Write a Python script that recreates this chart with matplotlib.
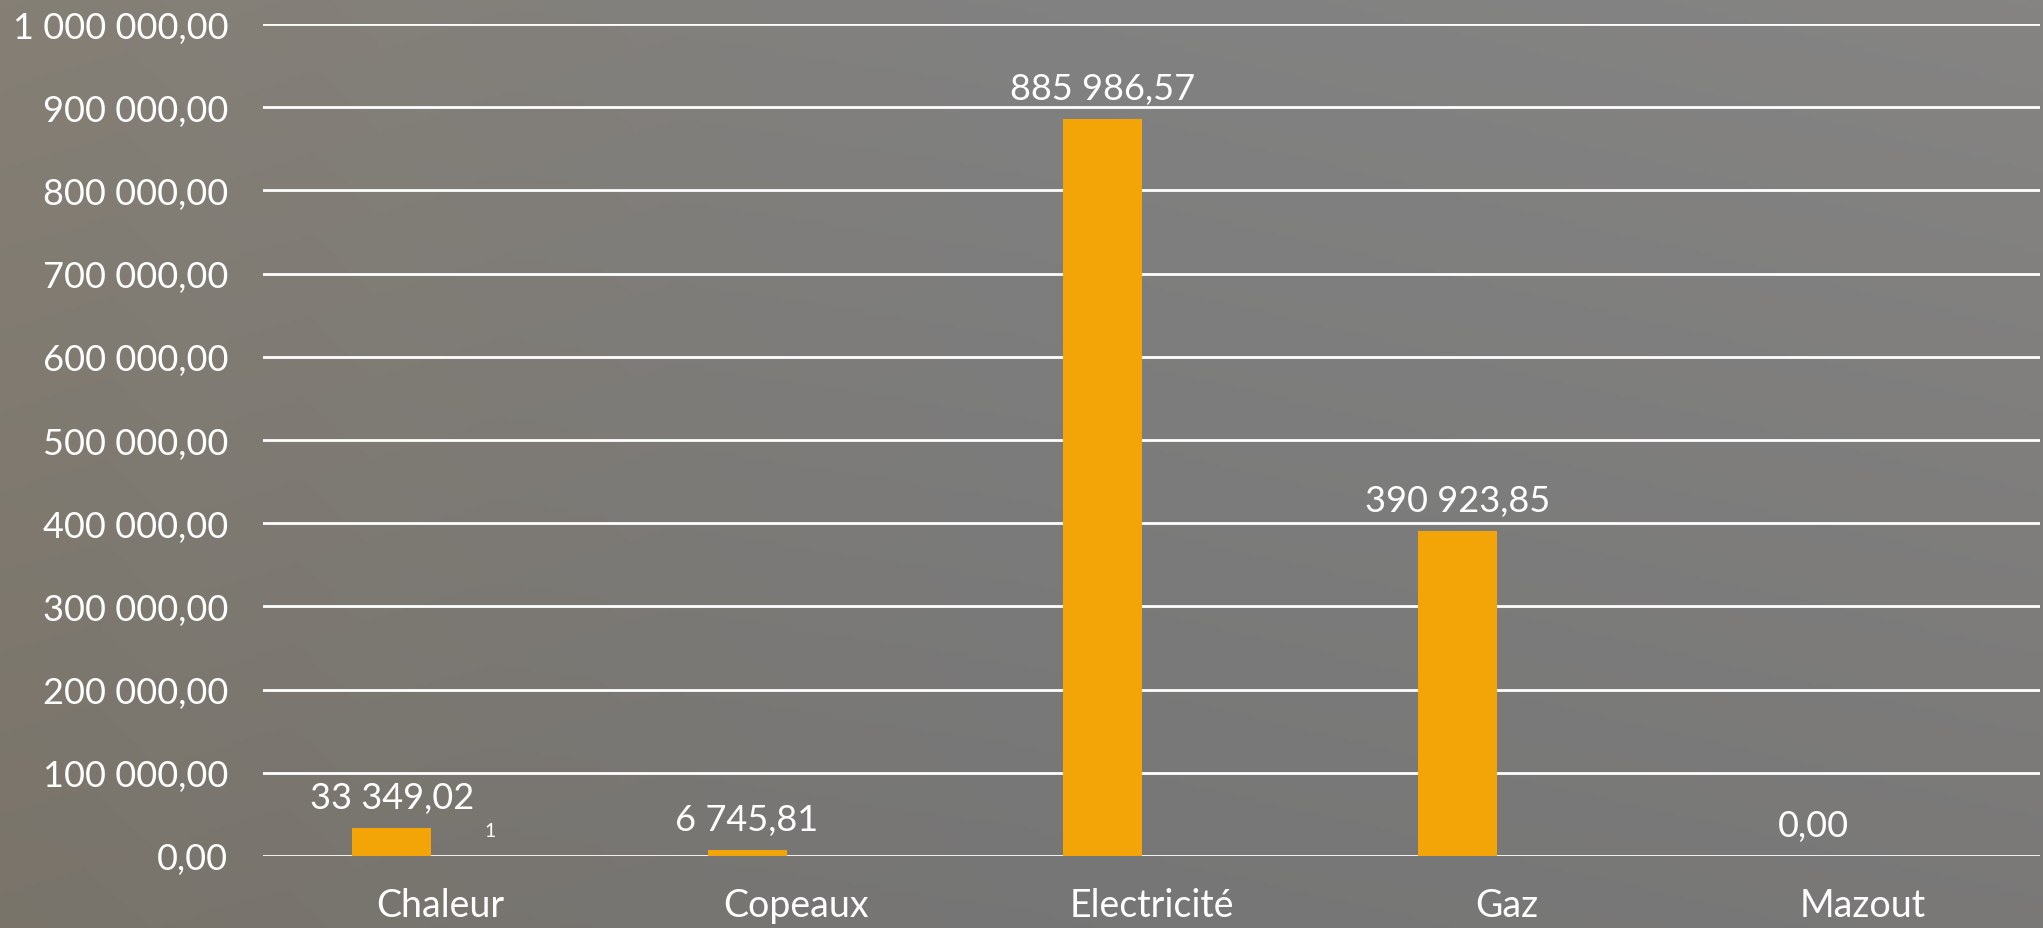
import numpy as np
import matplotlib
matplotlib.use("Agg")
import matplotlib.pyplot as plt
from matplotlib.ticker import FuncFormatter

categories = ["Chaleur", "Copeaux", "Electricité", "Gaz", "Mazout"]
values = [33349.02, 6745.81, 885986.57, 390923.85, 0.00]
value_labels = ["33 349,02", "6 745,81", "885 986,57", "390 923,85", "0,00"]
secondary_values = [0, 0, 0, 0, 0]
secondary_labels = ["1", "", "", "", ""]
yticks = [0, 100000, 200000, 300000, 400000, 500000, 600000, 700000, 800000, 900000, 1000000]

FONT = ["Lato", "DejaVu Sans"]
plt.rcParams["font.family"] = FONT

W, H = 2043, 929
fig = plt.figure(figsize=(W / 100, H / 100), dpi=100)

# background (concrete-like gray gradient)
bg = fig.add_axes([0, 0, 1, 1], zorder=-10)
yy, xx = np.mgrid[0:1:200j, 0:1:400j]
left_warm = np.array([128, 122, 112]) / 255
mid = np.array([124, 124, 124]) / 255
right = np.array([128, 127, 126]) / 255
t = xx[..., None]
col = np.where(t < 0.5, left_warm * (1 - 2 * t) + mid * (2 * t), mid * (2 - 2 * t) + right * (2 * t - 1))
shade = (1.0 - 0.05 * yy)[..., None]
col = np.clip(col * shade + 0.02 * (1 - yy[..., None]), 0, 1)
bg.imshow(col, aspect="auto", extent=[0, 1, 0, 1], origin="upper")
bg.axis("off")

ax = fig.add_axes([263 / W, 1 - 857 / H, (2040 - 263) / W, (857 - 25) / H])
ax.patch.set_alpha(0)
x = np.arange(len(categories))
bw = 79 / 355
off = 49 / 355
ax.bar(x - off, values, width=bw, color="#F3A507", zorder=3)
ax.bar(x + off, secondary_values, width=bw, color="#F3A507", zorder=3)

ax.set_xlim(-0.5, len(categories) - 0.5)
ax.set_ylim(0, 1000000)
ax.set_yticks(yticks)
ax.yaxis.set_major_formatter(FuncFormatter(lambda v, p: f"{v:,.2f}".replace(",", " ").replace(".", ",")))
ax.set_xticks(x)
ax.set_xticklabels(categories)
ax.grid(axis="y", color="white", linewidth=2, zorder=1)
for s in ax.spines.values():
    s.set_visible(False)
ax.tick_params(axis="y", length=0, pad=25, labelsize=26, labelcolor="white")
ax.tick_params(axis="x", length=0, pad=22, labelsize=27, labelcolor="white")

for xi, v, lab in zip(x, values, value_labels):
    ax.annotate(lab, (xi - off, v), xytext=(0, 10), textcoords="offset points",
                ha="center", va="bottom", color="white", fontsize=26)
for xi, v, lab in zip(x, secondary_values, secondary_labels):
    if lab:
        ax.annotate(lab, (xi + off, v), xytext=(0, 12), textcoords="offset points",
                    ha="center", va="bottom", color="white", fontsize=14)

fig.savefig("out.png", dpi=100)
